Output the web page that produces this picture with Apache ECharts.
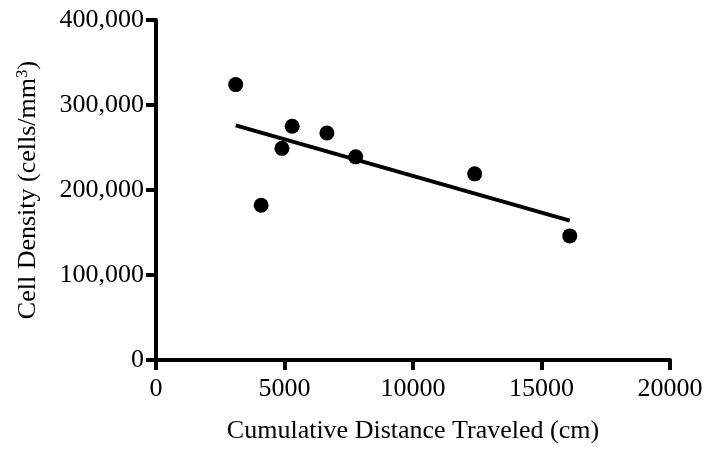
<!DOCTYPE html>
<html>
<head>
<meta charset="utf-8">
<script src="https://cdn.jsdelivr.net/npm/echarts@6/dist/echarts.min.js"></script>
<style>
html, body { margin: 0; padding: 0; background: #fff; }
#chart { width: 706px; height: 449px; }
</style>
</head>
<body>
<div id="chart"></div>
<script>
// distance traveled (cm) and cell density (cells/mm3)
var distance = [3100, 5300, 4900, 6650, 7770, 4090, 12400, 16100];
var density = [324000, 275000, 249000, 267000, 239000, 182000, 219000, 146000];
// fitted line end points
var fitX = [3100, 16100];
var fitY = [276000, 164000];

var xTicks = [0, 5000, 10000, 15000, 20000];
var yTicks = [0, 100000, 200000, 300000, 400000];

var points = [];
for (var i = 0; i < distance.length; i++) {
  points.push([distance[i], density[i]]);
}
var fit = [];
for (var j = 0; j < fitX.length; j++) {
  fit.push([fitX[j], fitY[j]]);
}

var serif = 'Liberation Serif';
var myChart = echarts.init(document.getElementById('chart'));

var option = {
  backgroundColor: '#fff',
  animation: false,
  grid: { left: 156, right: 36, top: 20, bottom: 89, outerBoundsMode: 'none' },
  xAxis: {
    type: 'value',
    min: xTicks[0],
    max: xTicks[xTicks.length - 1],
    interval: 5000,
    name: 'Cumulative Distance Traveled (cm)',
    nameLocation: 'middle',
    nameGap: 58,
    nameTextStyle: { fontFamily: serif, fontSize: 26, color: '#000' },
    axisLine: { lineStyle: { color: '#000', width: 4 } },
    axisTick: { length: 10, lineStyle: { color: '#000', width: 4 } },
    axisLabel: {
      fontFamily: serif, fontSize: 26, color: '#000', margin: 16,
      formatter: function (v) { return String(v); }
    },
    splitLine: { show: false }
  },
  yAxis: {
    type: 'value',
    min: yTicks[0],
    max: yTicks[yTicks.length - 1],
    interval: 100000,
    name: 'Cell Density (cells/mm{sup|3})',
    nameLocation: 'middle',
    nameGap: 113,
    nameTextStyle: {
      fontFamily: serif, fontSize: 26, color: '#000',
      rich: {
        sup: { fontFamily: serif, fontSize: 17, color: '#000', padding: [0, 0, 12, 0] }
      }
    },
    axisLine: { show: true, lineStyle: { color: '#000', width: 4 } },
    axisTick: { show: true, length: 10, lineStyle: { color: '#000', width: 4 } },
    axisLabel: {
      fontFamily: serif, fontSize: 26, color: '#000', margin: 12,
      formatter: function (v) { return v.toLocaleString('en-US'); }
    },
    splitLine: { show: false }
  },
  series: [
    {
      type: 'line',
      data: fit,
      symbol: 'none',
      lineStyle: { color: '#000', width: 4 },
      z: 2
    },
    {
      type: 'scatter',
      data: points,
      symbolSize: 15,
      itemStyle: { color: '#000', opacity: 1 },
      z: 3
    }
  ]
};

myChart.setOption(option);
</script>
</body>
</html>
